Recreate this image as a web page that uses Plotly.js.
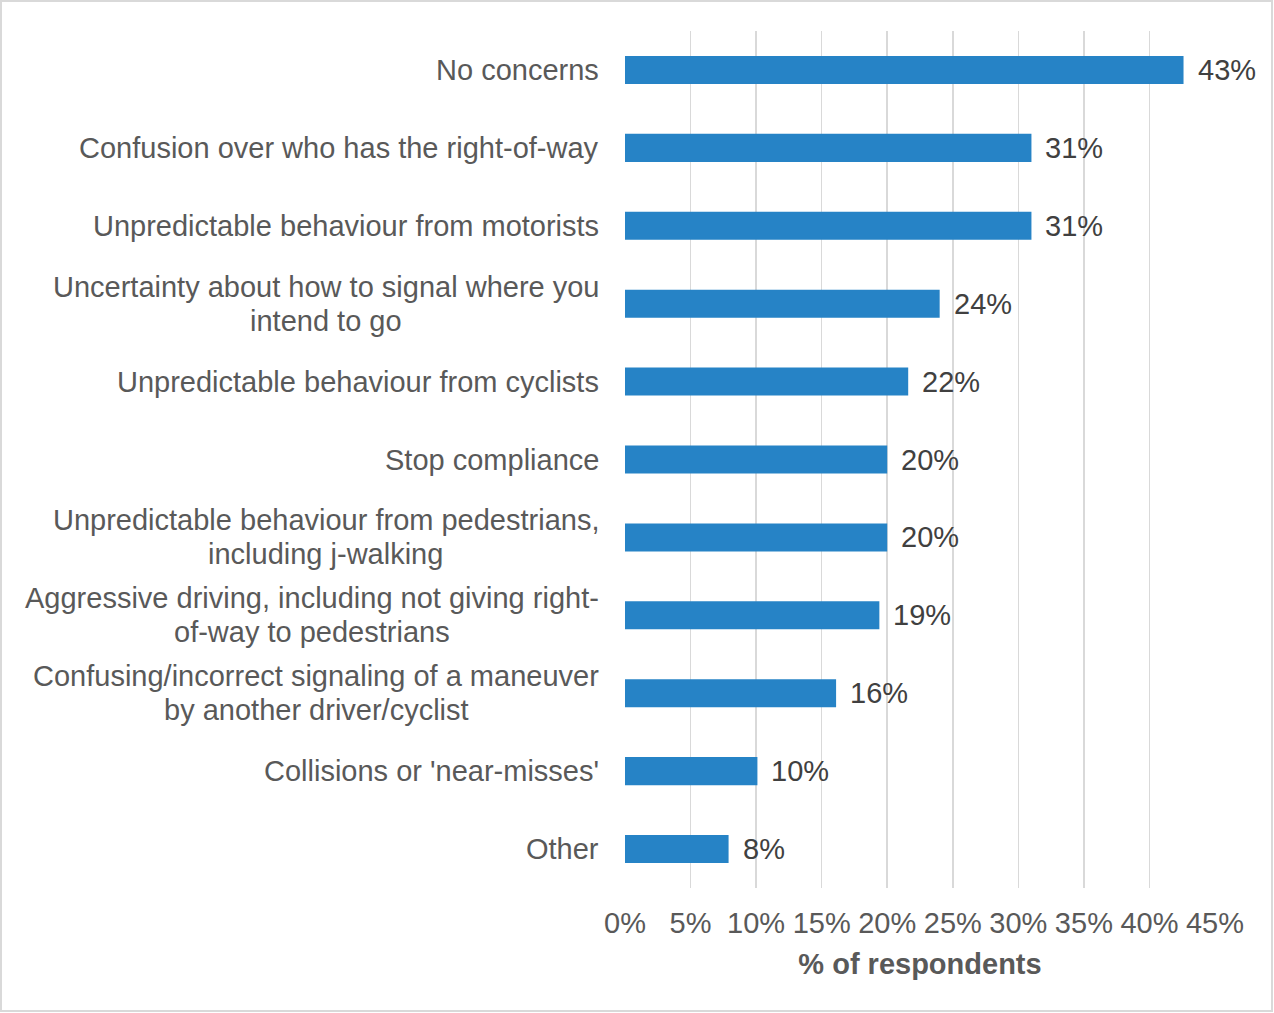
<!DOCTYPE html>
<html>
<head>
<meta charset="utf-8">
<script src="https://cdn.plot.ly/plotly-3.0.1.min.js"></script>
<style>
  html, body { margin: 0; padding: 0; background: #fff; }
  #chart { width: 1274px; height: 1013px; }
</style>
</head>
<body>
<div id="chart"></div>
<script>
const categories = [
  "No concerns",
  "Confusion over who has the right-of-way",
  "Unpredictable behaviour from motorists",
  "Uncertainty about how to signal where you<br>intend to go",
  "Unpredictable behaviour from cyclists",
  "Stop compliance",
  "Unpredictable behaviour from pedestrians,<br>including j-walking",
  "Aggressive driving, including not giving right-<br>of-way to pedestrians",
  "Confusing/incorrect signaling of a maneuver<br>by another driver/cyclist",
  "Collisions or 'near-misses'",
  "Other"
];
const values = [42.6, 31.0, 31.0, 24.0, 21.6, 20.0, 20.0, 19.4, 16.1, 10.1, 7.9];
const valueLabels = ["43%", "31%", "31%", "24%", "22%", "20%", "20%", "19%", "16%", "10%", "8%"];
const tickVals = [0, 5, 10, 15, 20, 25, 30, 35, 40, 45];
const tickText = ["0%", "5%", "10%", "15%", "20%", "25%", "30%", "35%", "40%", "45%"];

const FONT = "Liberation Sans, Arial, sans-serif";
const FS = 29;
const LINE_H = 34;
const LABEL_GAP = 26;

const canvas = document.createElement("canvas");
const ctx = canvas.getContext("2d");
ctx.font = FS + "px 'Liberation Sans', Arial, sans-serif";

const trace = {
  type: "bar",
  orientation: "h",
  y: categories,
  x: values,
  width: 0.36,
  marker: { color: "#2683C6" },
  hoverinfo: "none"
};

const valueAnnotations = categories.map((c, i) => ({
  x: values[i],
  y: c,
  xref: "x",
  yref: "y",
  text: valueLabels[i],
  showarrow: false,
  xanchor: "left",
  yanchor: "middle",
  xshift: 12,
  font: { family: FONT, size: FS, color: "#404040" }
}));

const categoryAnnotations = [];
categories.forEach((c) => {
  const lines = c.split("<br>");
  const widths = lines.map((l) => ctx.measureText(l).width);
  const W = Math.max.apply(null, widths);
  const n = lines.length;
  lines.forEach((line, k) => {
    categoryAnnotations.push({
      x: 0,
      y: c,
      xref: "paper",
      yref: "y",
      text: line,
      showarrow: false,
      xanchor: "center",
      yanchor: "middle",
      xshift: -LABEL_GAP - W / 2,
      yshift: -(k - (n - 1) / 2) * LINE_H,
      borderpad: 0,
      font: { family: FONT, size: FS, color: "#595959" }
    });
  });
});

const layout = {
  width: 1274,
  height: 1013,
  margin: { l: 625, r: 59, t: 31, b: 125 },
  paper_bgcolor: "#ffffff",
  plot_bgcolor: "#ffffff",
  showlegend: false,
  font: { family: FONT, size: FS, color: "#595959" },
  xaxis: {
    range: [0, 45],
    tickvals: tickVals,
    ticktext: tickText,
    showgrid: true,
    gridcolor: "#D9D9D9",
    gridwidth: 1.5,
    zeroline: false,
    showline: false,
    ticks: "",
    ticklabelstandoff: 15,
    tickfont: { family: FONT, size: FS, color: "#595959" },
    title: {
      text: "<b>% of respondents</b>",
      font: { family: FONT, size: FS, color: "#595959" },
      standoff: 15
    },
    fixedrange: true
  },
  yaxis: {
    type: "category",
    autorange: "reversed",
    showgrid: false,
    zeroline: false,
    showline: false,
    showticklabels: false,
    ticks: "",
    fixedrange: true
  },
  annotations: valueAnnotations.concat(categoryAnnotations),
  shapes: [{
    type: "rect",
    xref: "paper", yref: "paper",
    x0: -624 / 590, x1: (1272 - 625) / 590,
    y0: (1013 - 1011 - 125) / 857, y1: (1013 - 1 - 125) / 857,
    line: { color: "#D9D9D9", width: 2 },
    fillcolor: "rgba(0,0,0,0)",
    layer: "below"
  }]
};

Plotly.newPlot("chart", [trace], layout, { displayModeBar: false, staticPlot: true });
</script>
</body>
</html>
